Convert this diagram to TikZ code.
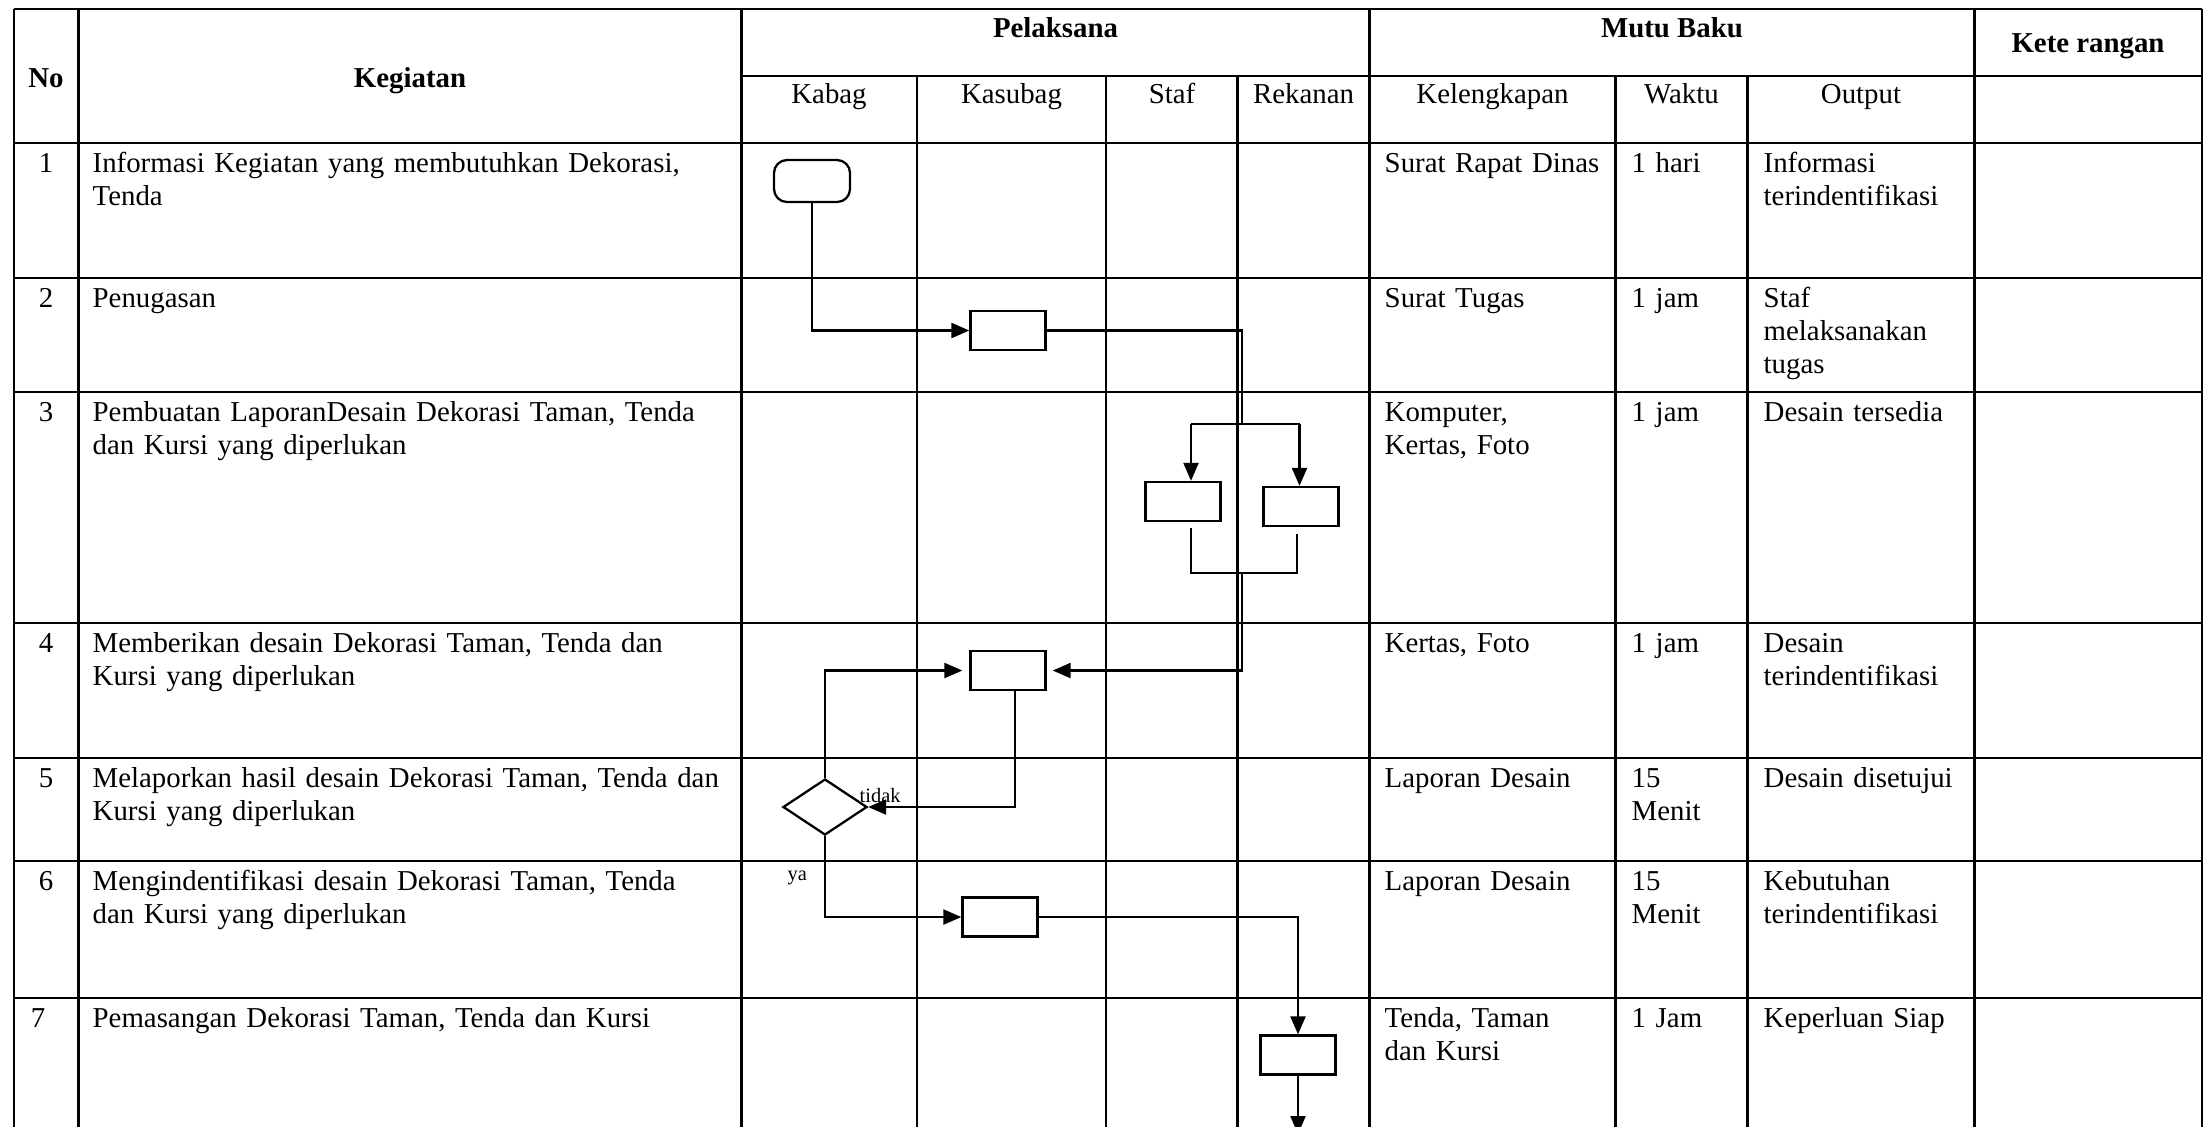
\documentclass[tikz,border=0pt]{standalone}
\usepackage{fontspec}
\setmainfont{Liberation Serif}
\usetikzlibrary{arrows.meta,shapes.geometric}

\tikzset{
	garis/.style={black, line width=0.8pt},
	alur/.style={black, line width=0.65pt},
	panah/.style={alur, -{Triangle[length=0.18cm,width=0.15cm]}},
	isi/.style={anchor=base west, inner sep=0pt, align=left, text width=6.4cm, font=\fontsize{8.2}{9.45}\selectfont},
	tengah/.style={anchor=base, inner sep=0pt, font=\fontsize{8.2}{9.45}\selectfont},
	judul/.style={anchor=base, inner sep=0pt, font=\fontsize{8.2}{9.45}\selectfont\bfseries},
	kecil/.style={anchor=base west, inner sep=0pt, font=\fontsize{5.8}{7}\selectfont},
	kotak/.style={draw, alur, minimum width=0.75cm, minimum height=0.39cm, inner sep=0pt},
	terminal/.style={kotak, rounded corners=0.13cm, minimum width=0.76cm, minimum height=0.42cm},
	keputusan/.style={draw, alur, diamond, minimum width=0.84cm, minimum height=0.56cm, inner sep=0pt}
}

\begin{document}
\begin{tikzpicture}[x=0.01cm, y=-0.01cm]
		\useasboundingbox (0,0) rectangle (2206,1126);
		\clip (0,0) rectangle (2206,1126);
		
		%table rows
		\draw[garis] (14,9) -- (2202,9);
		\draw[garis] (741.5,76) -- (2202,76);
		\draw[garis] (14,143) -- (2202,143);
		\draw[garis] (14,278) -- (2202,278);
		\draw[garis] (14,392) -- (2202,392);
		\draw[garis] (14,623) -- (2202,623);
		\draw[garis] (14,758) -- (2202,758);
		\draw[garis] (14,861) -- (2202,861);
		\draw[garis] (14,998) -- (2202,998);
		
		%table columns
		\draw[garis] (14,9) -- (14,1130);
		\draw[garis] (78.6,9) -- (78.6,1130);
		\draw[garis] (741.5,9) -- (741.5,1130);
		\draw[garis] (917,76) -- (917,1130);
		\draw[garis] (1106,76) -- (1106,1130);
		\draw[garis] (1237.5,76) -- (1237.5,1130);
		\draw[garis] (1369.5,9) -- (1369.5,1130);
		\draw[garis] (1615.6,76) -- (1615.6,1130);
		\draw[garis] (1747.5,76) -- (1747.5,1130);
		\draw[garis] (1974.7,9) -- (1974.7,1130);
		\draw[garis] (2202,9) -- (2202,1130);
		
		%header
		\node[judul] (no) at (46,87) {No};
		\node[judul] (keg) at (410,87) {Kegiatan};
		\node[judul] (pel) at (1055.5,37) {Pelaksana};
		\node[judul] (mutu) at (1672,37) {Mutu Baku};
		\node[judul] (ket) at (2088,52) {Kete rangan};
		\node[tengah] (kabag) at (829,103.3) {Kabag};
		\node[tengah] (kasubag) at (1011.5,103.3) {Kasubag};
		\node[tengah] (staf) at (1172,103.3) {Staf};
		\node[tengah] (rekanan) at (1303.5,103.3) {Rekanan};
		\node[tengah] (lengkap) at (1492.5,103.3) {Kelengkapan};
		\node[tengah] (waktu) at (1681.5,103.3) {Waktu};
		\node[tengah] (output) at (1861,103.3) {Output};
		
		%row 1
		\node[tengah] (n1) at (46,172) {1};
		\node[isi] (k1) at (92,172) {Informasi Kegiatan yang membutuhkan Dekorasi,\\Tenda};
		\node[isi] (l1) at (1384,172) {Surat Rapat Dinas};
		\node[isi] (w1) at (1631,172) {1 hari};
		\node[isi] (o1) at (1763,172) {Informasi\\terindentifikasi};
		
		%row 2
		\node[tengah] (n2) at (46,307) {2};
		\node[isi] (k2) at (92,307) {Penugasan};
		\node[isi] (l2) at (1384,307) {Surat Tugas};
		\node[isi] (w2) at (1631,307) {1 jam};
		\node[isi] (o2) at (1763,307) {Staf\\melaksanakan\\tugas};
		
		%row 3
		\node[tengah] (n3) at (46,421) {3};
		\node[isi] (k3) at (92,421) {Pembuatan LaporanDesain Dekorasi Taman, Tenda\\dan Kursi yang diperlukan};
		\node[isi] (l3) at (1384,421) {Komputer,\\Kertas, Foto};
		\node[isi] (w3) at (1631,421) {1 jam};
		\node[isi] (o3) at (1763,421) {Desain tersedia};
		
		%row 4
		\node[tengah] (n4) at (46,652) {4};
		\node[isi] (k4) at (92,652) {Memberikan desain Dekorasi Taman, Tenda dan\\Kursi yang diperlukan};
		\node[isi] (l4) at (1384,652) {Kertas, Foto};
		\node[isi] (w4) at (1631,652) {1 jam};
		\node[isi] (o4) at (1763,652) {Desain\\terindentifikasi};
		
		%row 5
		\node[tengah] (n5) at (46,787) {5};
		\node[isi] (k5) at (92,787) {Melaporkan hasil desain Dekorasi Taman, Tenda dan\\Kursi yang diperlukan};
		\node[isi] (l5) at (1384,787) {Laporan Desain};
		\node[isi] (w5) at (1631,787) {15\\Menit};
		\node[isi] (o5) at (1763,787) {Desain disetujui};
		
		%row 6
		\node[tengah] (n6) at (46,890) {6};
		\node[isi] (k6) at (92,890) {Mengindentifikasi desain Dekorasi Taman, Tenda\\dan Kursi yang diperlukan};
		\node[isi] (l6) at (1384,890) {Laporan Desain};
		\node[isi] (w6) at (1631,890) {15\\Menit};
		\node[isi] (o6) at (1763,890) {Kebutuhan\\terindentifikasi};
		
		%row 7
		\node[tengah] (n7) at (38,1027) {7};
		\node[isi] (k7) at (92,1027) {Pemasangan Dekorasi Taman, Tenda dan Kursi};
		\node[isi] (l7) at (1384,1027) {Tenda, Taman\\dan Kursi};
		\node[isi] (w7) at (1631,1027) {1 Jam};
		\node[isi] (o7) at (1763,1027) {Keperluan Siap};
		
		%flow shapes
		\node[terminal] (mulai) at (812,181) {};
		\node[kotak] (tugas) at (1008,330.5) {};
		\node[kotak] (desainA) at (1183,501.5) {};
		\node[kotak] (desainB) at (1301,506.5) {};
		\node[kotak] (beri) at (1008,670.5) {};
		\node[keputusan] (cek) at (825,807) {};
		\node[kotak] (ident) at (1000,917) {};
		\node[kotak] (pasang) at (1298,1055) {};
		
		\coordinate (pecah) at (1242,424);
		\coordinate (pecahL) at (1191,424);
		\coordinate (pecahR) at (1299.5,424);
		\coordinate (gabungL) at (1191,573);
		\coordinate (gabungR) at (1297,573);
		\coordinate (gabung) at (1242,573);
		\coordinate (akhir) at (1298,1134);
		
		%flow lines
		\draw[panah] (mulai.south) |- (tugas.west);
		\draw[alur] (tugas.east) -| (pecah);
		\draw[alur] (pecahL) -- (pecahR);
		\draw[panah] (pecahL) -- (pecahL |- desainA.north);
		\draw[panah] (pecahR) -- (pecahR |- desainB.north);
		\draw[alur, shorten <=0.06cm, shorten >=0.07cm] (gabungL |- desainA.south) -- (gabungL) -- (gabungR) -- (gabungR |- desainB.south);
		\draw[panah, shorten >=0.06cm] (gabung) |- (beri.east);
		\draw[panah] ([xshift=0.07cm]beri.south) |- (cek.east);
		\draw[panah, shorten >=0.07cm] (cek.north) |- (beri.west);
		\draw[panah] (cek.south) |- (ident.west);
		\draw[panah] (ident.east) -| (pasang.north);
		\draw[panah] (pasang.south) -- (akhir);
		
		%labels
		\node[kecil] (tidak) at (859,802.7) {tidak};
		\node[kecil] (ya) at (787,880) {ya};
		
\end{tikzpicture}
\end{document}
